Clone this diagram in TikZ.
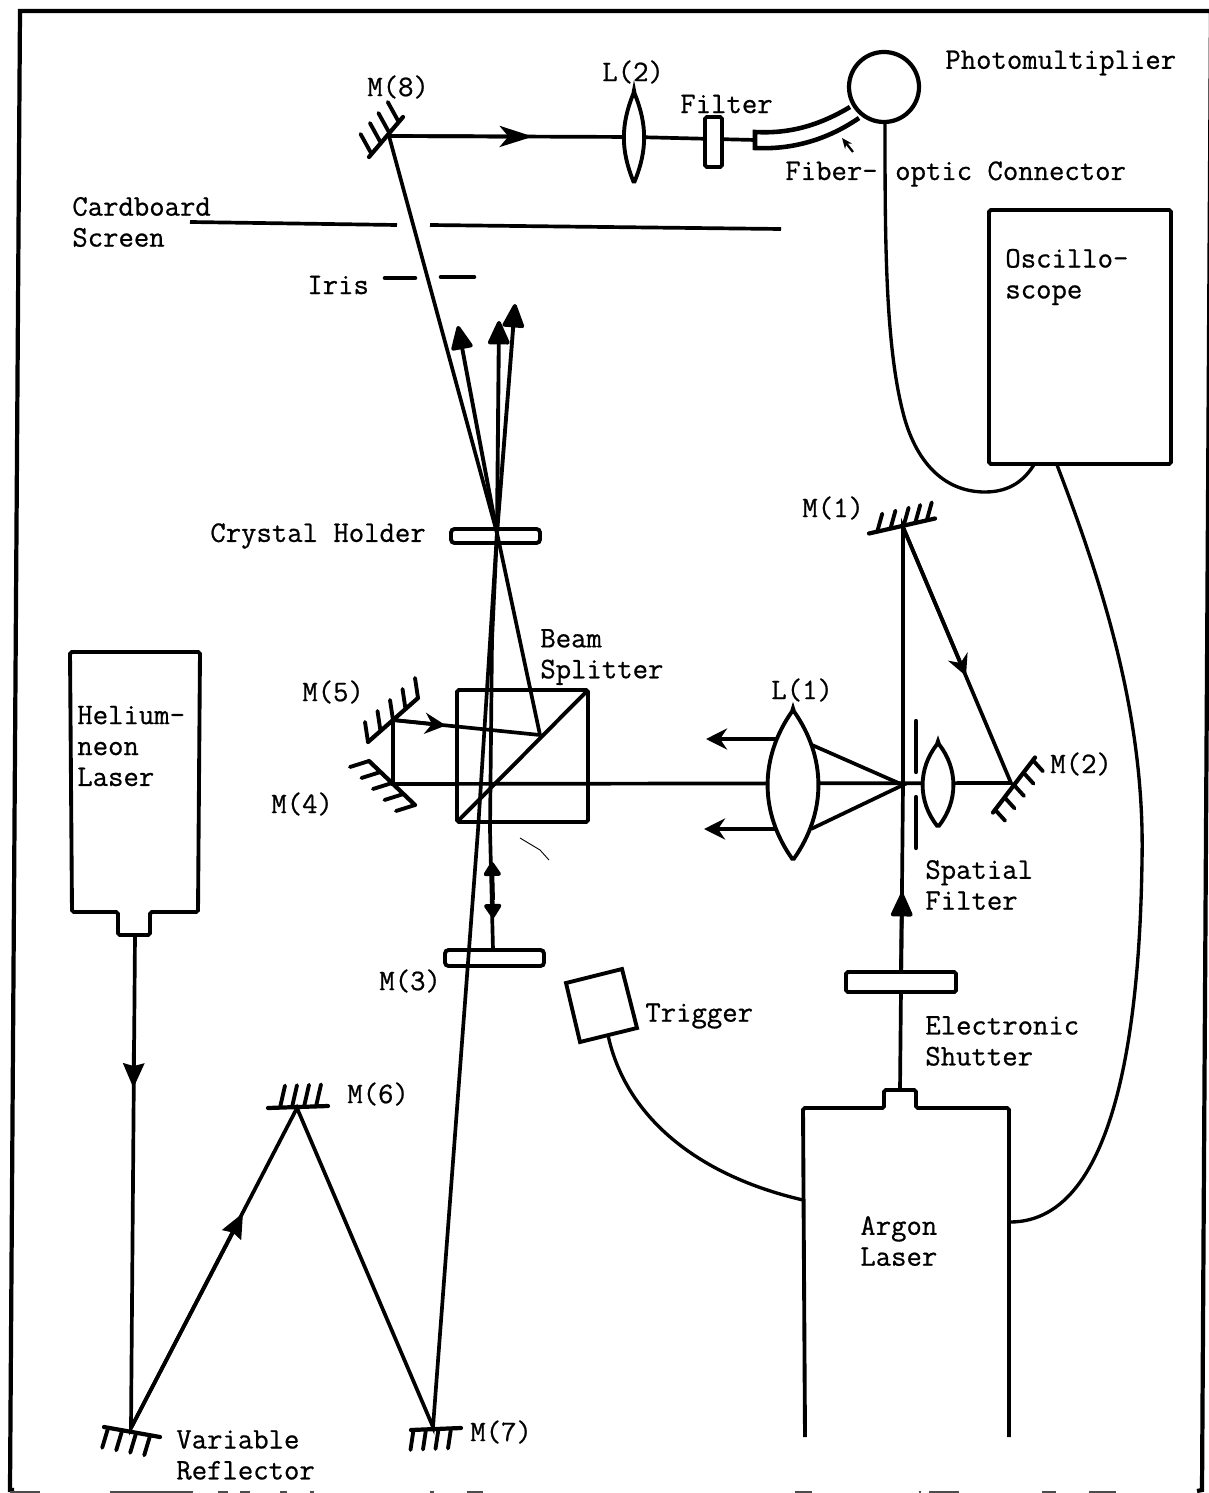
\documentclass[tikz,border=0pt]{standalone}
\usepackage{fontspec}
\usetikzlibrary{arrows.meta}
\newfontfamily\labfont{Latin Modern Mono}[RawFeature={embolden=0.7}]
\tikzset{
	beam/.style={line width=2.1pt},
	beamhead/.style={line width=2.1pt,-{Stealth[length=14pt,width=12pt,inset=1.5pt]}},
	sweephead/.style={line width=2.1pt,-{Stealth[length=12pt,width=12pt,inset=4pt]}},
	tiphead/.style={line width=2.2pt,-{Triangle[length=15pt,width=13pt,round]}},
	shorthead/.style={line width=2.2pt,-{Triangle[length=9pt,width=11pt,round]}},
	part/.style={line width=2.2pt,fill=white,rounded corners=1pt},
	wire/.style={line width=1.9pt},
	lab/.style={anchor=west,inner sep=0pt,align=left,font=\labfont\fontsize{17}{17.6}\selectfont}
}
\begin{document}
\begin{tikzpicture}[x=0.02cm,y=-0.02cm]
		\newcommand{\mymirror}[6]{
			\begin{scope}[shift={#1}]
				\draw[line width=2.4pt,line cap=round] (-1*#2,-1*#3) -- (#2,#3);
				\foreach \f in {#6} {
					\draw[line width=2.2pt,line cap=round] (\f*#2,\f*#3) -- ++(#4,#5);
				}
			\end{scope}
		}
		\useasboundingbox (0,0) rectangle (1209,1493);
		%Outer frame
		\coordinate (frameTL) at (20,11);
		\coordinate (frameTR) at (1211,11);
		\coordinate (frameBL) at (10,1490);
		\coordinate (frameBR) at (1202,1490);
		\draw[line width=2.4pt] (14,1490) -- (frameBL) -- (frameTL) -- (frameTR) -- (frameBR) -- (1197,1491);
		%Specks along the lower edge
		\foreach \a/\b in {10/40,110/193,218/228,240/250,280/287,310/314,430/434,467/483,795/812,919/921,929/959,1042/1056,1089/1116} {
			\draw[line width=0.7pt,black!70] (\a,1492) -- (\b,1492);
		}
		%Beam spots
		\coordinate (m8) at (389,136);
		\coordinate (fiberIn) at (755,140);
		\coordinate (crystal) at (497,533);
		\coordinate (split) at (540,735);
		\coordinate (m7) at (433,1427);
		\coordinate (m6) at (297,1108);
		\coordinate (var) at (131,1428);
		\coordinate (m5) at (393,720);
		\coordinate (m4) at (393,784);
		\coordinate (m2) at (1011,783);
		\coordinate (m1) at (903,527);
		\coordinate (focus) at (903,785);
		%Beam from the argon laser
		\draw[beam] (900,1090) -- (focus) -- (m1) -- (m2) -- (m4) -- (m5) -- (split);
		\draw[tiphead] (901,972) -- (902,893);
		\draw[sweephead] (m1) -- (966,676);
		\draw[sweephead] (m5) -- (446,725.5);
		%Focus lines and the beams out of lens one
		\draw[beam] (812,745) -- (focus) -- (811,829);
		\draw[sweephead] (780,739) -- (706,739);
		\draw[sweephead] (780,829) -- (704,829);
		%Beam from the mirror three
		\draw[beam] (493,950) -- (490,830) -- (492,640) -- (crystal);
		\draw[shorthead] (493,900) -- (492,862);
		\draw[shorthead] (492,880) -- (493,918);
		%Helium neon beam
		\draw[beam] (135,935) -- (var) -- (m6) -- (m7) -- (478,830) -- (crystal);
		\draw[beamhead] (134,1040) -- (133.4,1088);
		\draw[beamhead] (var) -- (243,1213);
		%Beams past the crystal
		\draw[beam] (m8) -- (crystal) -- (split);
		\draw[tiphead] (crystal) -- (458,326);
		\draw[tiphead] (crystal) -- (499,321);
		\draw[tiphead] (crystal) -- (515,304);
		\draw[beam] (m8) -- (634,137) -- (fiberIn);
		\draw[line width=2.1pt,-{Stealth[length=19pt,width=12pt,inset=5pt]}] (m8) -- (533,136.6);
		%Cardboard screen and iris
		\draw[beam] (190,222) -- (397,225);
		\draw[beam] (430,225) -- (781,229);
		\draw[line width=2.6pt,line cap=round] (385,278) -- (415,278);
		\draw[line width=2.6pt,line cap=round] (441,277) -- (474,277);
		%Mirrors
		\mymirror{(386,137)}{17}{-20}{-11}{-20}{-0.85,-0.3,0.2,0.75}
		\mymirror{(393,720)}{25}{-22}{-3}{-20}{-1,-0.5,0,0.5,1}
		\mymirror{(392,783)}{23}{22}{-19}{6}{-1,-0.5,0,0.5,1}
		\mymirror{(902,526)}{33}{-7.5}{5}{-18}{-0.75,-0.35,0.05,0.4,0.75}
		\mymirror{(1014,785)}{21}{-27.5}{10}{11}{-0.9,-0.45,0,0.45,0.9}
		\mymirror{(298,1107)}{30}{-1}{5}{-22}{-0.6,-0.2,0.2,0.6}
		\mymirror{(132,1432)}{28}{5}{-6}{20}{-0.85,-0.35,0.15,0.65}
		\mymirror{(436,1429)}{25}{-1}{-3}{20}{-0.9,-0.4,0.1,0.6}
		%Splitter cube
		\draw[line width=2.2pt,rounded corners=1pt] (457,690) rectangle (588,822);
		\draw[line width=2.2pt] (457,822) -- (588,690);
		\draw[line width=0.5pt] (520,838) -- (540,850) -- (549,860);
		%Thin holders
		\draw[line width=2.2pt,rounded corners=2pt] (451,529) rectangle (540,543);
		\draw[line width=2.2pt,rounded corners=2pt] (445,950) rectangle (544,966);
		\draw[part] (846,972) rectangle (956,992);
		\draw[part] (705,117) rectangle (722,167);
		%Lenses
		\draw[part] (634,92) to[bend left=22] (634,183) to[bend left=22] cycle;
		\draw[part] (793,710) to[bend left=35] (793,860) to[bend left=35] cycle;
		\draw[part] (938,743) to[bend left=38] (938,827) to[bend left=38] cycle;
		%Pinhole of the spatial filter
		\draw[line width=2.4pt,line cap=round] (916,721) -- (916,772);
		\draw[line width=2.4pt,line cap=round] (916,797) -- (916,848);
		%Detector and fiber
		\draw[line width=2.4pt] (884,87) circle (35);
		\draw[line width=2.6pt] (850,107) .. controls (820,125) and (790,134) .. (755,132) -- (755,148) .. controls (795,150) and (830,138) .. (859,118);
		\draw[line width=1.3pt,-{Stealth[length=6pt,width=5pt]}] (853,152) -- (842,138);
		%Boxes
		\draw[line width=2.2pt,rounded corners=1pt] (989,210) rectangle (1171,464);
		\draw[line width=2.2pt] (566,983) -- (622,969) -- (637,1028) -- (580,1042) -- cycle;
		\draw[line width=2.2pt,rounded corners=1pt] (70,652) -- (200,652) -- (198,912) -- (150,912) -- (150,935) -- (118,935) -- (118,912) -- (72,912) -- cycle;
		\draw[line width=2.2pt,rounded corners=1pt] (805,1437) -- (803,1108) -- (884,1108) -- (884,1090) -- (916,1090) -- (916,1108) -- (1009,1108) -- (1009,1437);
		%Wires
		\draw[wire] (885,122) .. controls (885,240) and (885,350) .. (905,420) .. controls (920,470) and (950,492) .. (985,492) .. controls (1010,492) and (1025,480) .. (1035,463);
		\draw[wire] (1057,465) .. controls (1105,590) and (1145,720) .. (1142,860) .. controls (1140,1010) and (1120,1222) .. (1010,1222);
		\draw[wire] (608,1035) .. controls (625,1115) and (695,1175) .. (803,1200);
		%Texts
		\node[lab] (photo) at (945,63) {Photomultiplier};
		\node[lab] (m8lab) at (367,87) {M(8)};
		\node[lab] (l2lab) at (602,72) {L(2)};
		\node[lab] (filter) at (680,104) {Filter};
		\node[lab] (fiber) at (785,174) {Fiber-\hspace{10pt}optic Connector};
		\node[lab] (screen) at (72,222) {Cardboard\\Screen};
		\node[lab] (iris) at (307,285) {Iris};
		\node[lab] (scope) at (1005,277) {Oscillo-\\scope};
		\node[lab] (holder) at (210,536) {Crystal Holder};
		\node[lab] (m1lab) at (802,508) {M(1)};
		\node[lab] (splitter) at (540,657) {Beam\\Splitter};
		\node[lab] (l1lab) at (771,690) {L(1)};
		\node[lab] (m5lab) at (302,692) {M(5)};
		\node[lab] (m4lab) at (271,804) {M(4)};
		\node[lab] (m2lab) at (1050,764) {M(2)};
		\node[lab] (helium) at (77,746) {Helium-\\neon\\Laser};
		\node[lab] (spatial) at (925,885) {Spatial\\Filter};
		\node[lab] (m3lab) at (379,981) {M(3)};
		\node[lab] (trigger) at (645,1016) {Trigger};
		\node[lab] (shutter) at (925,1041) {Electronic\\Shutter};
		\node[lab] (m6lab) at (347,1094) {M(6)};
		\node[lab] (argon) at (860,1241) {Argon\\Laser};
		\node[lab] (reflector) at (176,1455) {Variable\\Reflector};
		\node[lab] (m7lab) at (470,1432) {M(7)};
		\end{tikzpicture}
\end{document}
